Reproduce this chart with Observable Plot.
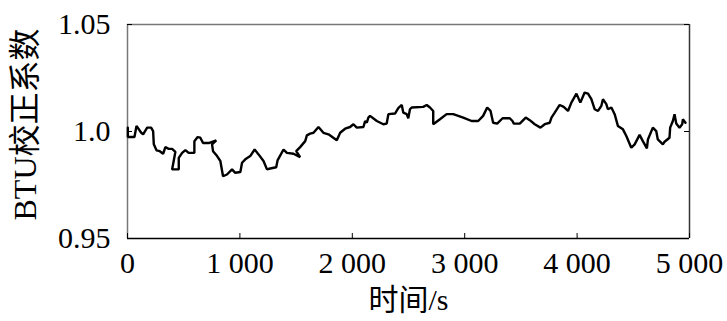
<!DOCTYPE html>
<html>
<head>
<meta charset="utf-8">
<script src="https://cdn.jsdelivr.net/npm/d3@7"></script>
<script src="https://cdn.jsdelivr.net/npm/@observablehq/plot@0.6"></script>
<style>
  html, body { margin: 0; padding: 0; background: #fff; }
</style>
</head>
<body>
<div id="chart"></div>
<script>
// Time (s)
const time = [3, 3, 62, 80, 122, 139, 175, 210, 228, 234, 258, 287, 317, 337, 367, 397, 426, 411, 397, 456, 456, 486, 515, 544, 595, 595, 624, 648, 672, 722, 790, 752, 761, 797, 826, 850, 885, 930, 959, 1004, 1019, 1048, 1092, 1131, 1166, 1210, 1241, 1270, 1323, 1335, 1388, 1418, 1477, 1536, 1501, 1536, 1581, 1596, 1625, 1655, 1699, 1743, 1788, 1862, 1892, 1936, 1980, 2010, 2040, 2099, 2114, 2129, 2143, 2158, 2218, 2276, 2306, 2321, 2380, 2409, 2440, 2454, 2484, 2498, 2513, 2528, 2631, 2662, 2691, 2720, 2720, 2780, 2839, 2898, 2987, 3061, 3120, 3164, 3200, 3230, 3253, 3289, 3337, 3401, 3425, 3437, 3490, 3543, 3579, 3623, 3674, 3712, 3757, 3772, 3801, 3845, 3881, 3919, 3949, 3994, 4029, 4067, 4097, 4127, 4156, 4186, 4216, 4230, 4260, 4274, 4305, 4334, 4363, 4408, 4438, 4482, 4512, 4556, 4585, 4621, 4630, 4674, 4704, 4718, 4763, 4778, 4822, 4828, 4852, 4867, 4882, 4911, 4935, 4941, 4964];
// BTU correction coefficient
const btu = [1.0018, 0.9974, 0.9974, 1.0026, 0.9994, 0.9987, 1.0018, 1.0018, 1.0002, 0.9940, 0.9912, 0.9908, 0.9896, 0.9927, 0.9919, 0.9919, 0.9905, 0.9862, 0.9823, 0.9823, 0.9877, 0.9900, 0.9913, 0.9900, 0.9900, 0.9955, 0.9974, 0.9971, 0.9946, 0.9946, 0.9959, 0.9940, 0.9908, 0.9885, 0.9862, 0.9791, 0.9799, 0.9823, 0.9807, 0.9811, 0.9854, 0.9870, 0.9885, 0.9916, 0.9893, 0.9862, 0.9823, 0.9827, 0.9833, 0.9865, 0.9916, 0.9900, 0.9896, 0.9880, 0.9908, 0.9927, 0.9955, 0.9982, 0.9990, 0.9994, 1.0021, 0.9994, 0.9987, 0.9959, 0.9994, 1.0013, 1.0021, 1.0034, 1.0018, 1.0021, 1.0049, 1.0041, 1.0065, 1.0073, 1.0049, 1.0034, 1.0037, 1.0081, 1.0084, 1.0109, 1.0124, 1.0088, 1.0081, 1.0062, 1.0104, 1.0112, 1.0115, 1.0124, 1.0112, 1.0096, 1.0034, 1.0057, 1.0081, 1.0081, 1.0065, 1.0049, 1.0049, 1.0073, 1.0112, 1.0096, 1.0041, 1.0037, 1.0062, 1.0062, 1.0049, 1.0037, 1.0037, 1.0065, 1.0053, 1.0034, 1.0018, 1.0034, 1.0041, 1.0065, 1.0088, 1.0124, 1.0115, 1.0096, 1.0135, 1.0177, 1.0135, 1.0182, 1.0177, 1.0151, 1.0104, 1.0096, 1.0120, 1.0151, 1.0128, 1.0104, 1.0112, 1.0081, 1.0026, 1.0010, 0.9979, 0.9924, 0.9940, 0.9984, 0.9955, 0.9921, 0.9963, 1.0018, 1.0002, 0.9963, 0.9940, 0.9952, 0.9971, 1.0018, 1.0049, 1.0081, 1.0037, 1.0018, 1.0034, 1.0057, 1.0041];

const xTicks = [0, 1000, 2000, 3000, 4000, 5000];
const xTickLabels = ["0", "1 000", "2 000", "3 000", "4 000", "5 000"];
const yTicks = [0.95, 1.0, 1.05];
const yTickLabels = ["0.95", "1.0", "1.05"];
const xDomain = [0, 5000];
const yDomain = [0.95, 1.05];
const xTitle = "时间/s";
const yTitle = "BTU校正系数";

const data = time.map((t, i) => ({t, v: btu[i]}));

const W = 727, H = 321;
const mL = 127, mR = 38, mT = 24, mB = 83;
const fw = W - mL - mR, fh = H - mT - mB;
const tickLen = 5;
const font = '"Liberation Serif", "Times New Roman", "Noto Sans CJK SC", serif';

const chart = Plot.plot({
  width: W,
  height: H,
  marginLeft: mL,
  marginRight: mR,
  marginTop: mT,
  marginBottom: mB,
  style: `font-family: ${font}; font-size: 30px; color: #000; background: #fff;`,
  x: {domain: xDomain},
  y: {domain: yDomain},
  marks: [
    Plot.ruleX([xDomain[0]], {stroke: "#777", strokeWidth: 1.5}),
    Plot.ruleX([xDomain[1]], {stroke: "#333", strokeWidth: 1.5}),
    Plot.ruleY([yDomain[1]], {stroke: "#777", strokeWidth: 1.5}),
    Plot.ruleY([yDomain[0]], {stroke: "#000", strokeWidth: 1.5}),
    Plot.tickX(xTicks, {x: d => d, insetTop: fh - tickLen, stroke: "#000"}),
    Plot.tickY(yTicks, {y: d => d, insetRight: fw - tickLen, stroke: "#000"}),
    Plot.tickY(yTicks, {y: d => d, insetLeft: fw - tickLen, stroke: "#000"}),
    Plot.axisX(xTicks, {tickSize: 0, tickPadding: 13, label: null,
      tickFormat: d => xTickLabels[xTicks.indexOf(d)],
      fontFamily: font, fontSize: 30, fill: "#000"}),
    Plot.axisY(yTicks, {tickSize: 0, tickPadding: 17, label: null,
      tickFormat: d => yTickLabels[yTicks.indexOf(d)],
      fontFamily: font, fontSize: 30, fill: "#000"}),
    Plot.text([xTitle], {frameAnchor: "bottom", dy: 62, lineAnchor: "middle", textAnchor: "middle",
      fontFamily: font, fontSize: 30, fill: "#000"}),
    Plot.text([yTitle], {frameAnchor: "left", dx: -102, dy: -7, rotate: -90, lineAnchor: "middle", textAnchor: "middle",
      fontFamily: font, fontSize: 32, fill: "#000"}),
    Plot.line(data, {x: "t", y: "v", stroke: "#000", strokeWidth: 2.4, strokeLinejoin: "miter"})
  ]
});
document.getElementById("chart").appendChild(chart);
</script>
</body>
</html>
